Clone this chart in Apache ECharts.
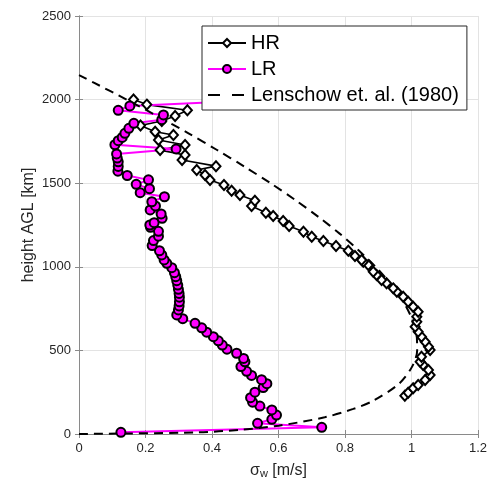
<!DOCTYPE html>
<html lang="en" style="height: 100%">
<head>
    <meta charset="UTF-8">
    <title>sigma_w profile</title>
    <script src="https://cdn.jsdelivr.net/npm/echarts@6/dist/echarts.min.js"></script>
</head>
<body style="height: 100%; margin: 0; background: #fff">
<div id="container" style="width: 493px; height: 485px"></div>

<script type="text/javascript">
    // HR profile: sigma_w [m/s] and height [m], bottom to top
    var hrSigma = [0.980, 0.990, 1.005, 1.020, 1.041, 1.056, 1.051, 1.035, 1.026, 1.030, 1.056, 1.051, 1.041, 1.030,
        1.020, 1.011, 1.016, 1.016, 1.020, 1.005, 0.990, 0.975, 0.956, 0.945, 0.925, 0.910, 0.895, 0.885, 0.870,
        0.855, 0.850, 0.830, 0.810, 0.773, 0.735, 0.700, 0.675, 0.632, 0.614, 0.584, 0.562, 0.519, 0.529, 0.484,
        0.459, 0.436, 0.394, 0.379, 0.354, 0.412, 0.310, 0.319, 0.244, 0.319, 0.239, 0.284, 0.229, 0.185, 0.249,
        0.289, 0.326, 0.204, 0.164];
    var hrHeight = [229, 247, 273, 293, 323, 353, 383, 413, 432, 462, 502, 522, 552, 582,
        612, 642, 672, 702, 731, 761, 791, 821, 851, 871, 901, 921, 951, 971, 1011,
        1030, 1041, 1065, 1096, 1124, 1154, 1180, 1210, 1244, 1274, 1304, 1323, 1364, 1395, 1429,
        1455, 1489, 1519, 1549, 1579, 1602, 1639, 1669, 1698, 1728, 1758, 1788, 1808, 1845, 1872,
        1902, 1936, 1970, 2000];

    // LR profile
    var lrSigma = [0.126, 0.730, 0.537, 0.580, 0.594, 0.580, 0.544, 0.522, 0.516, 0.529, 0.554, 0.565, 0.549,
        0.519, 0.504, 0.487, 0.499, 0.495, 0.474, 0.445, 0.431, 0.419, 0.404, 0.384, 0.369, 0.349, 0.312,
        0.294, 0.299, 0.301, 0.302, 0.302, 0.301, 0.299, 0.297, 0.294, 0.291, 0.287, 0.279, 0.264, 0.256,
        0.249, 0.242, 0.220, 0.224, 0.239, 0.239, 0.215, 0.213, 0.226, 0.250, 0.247, 0.214, 0.230, 0.219,
        0.257, 0.184, 0.212, 0.172, 0.209, 0.145, 0.117, 0.118, 0.118, 0.115, 0.113, 0.292, 0.108, 0.118,
        0.130, 0.138, 0.150, 0.165, 0.249, 0.254, 0.118, 0.153, 0.420];
    var lrHeight = [10, 40, 64, 88, 113, 144, 167, 190, 217, 250, 278, 301, 325,
        350, 375, 403, 432, 452, 483, 507, 532, 557, 582, 609, 635, 662, 690,
        712, 742, 766, 791, 818, 841, 865, 891, 917, 941, 965, 995, 1021, 1041,
        1071, 1096, 1127, 1157, 1183, 1212, 1236, 1250, 1264, 1290, 1316, 1340, 1364, 1389,
        1419, 1443, 1467, 1493, 1520, 1546, 1572, 1600, 1628, 1650, 1675, 1705, 1730, 1754,
        1774, 1798, 1828, 1858, 1880, 1908, 1936, 1962, 1985];

    // Lenschow et al. (1980) reference curve
    var lenSigma = [0, 0.358, 0.483, 0.601, 0.739, 0.825, 0.886, 0.962, 1.001, 1.017, 1.015, 0.999, 0.973,
        0.936, 0.892, 0.840, 0.783, 0.719, 0.650, 0.576, 0.497, 0.414, 0.328, 0.237, 0.143, 0.046, 0];
    var lenHeight = [0, 10, 25, 50, 100, 150, 200, 300, 400, 500, 600, 700, 800,
        900, 1000, 1100, 1200, 1300, 1400, 1500, 1600, 1700, 1800, 1900, 2000, 2100, 2146];

    var seriesNames = ['HR', 'LR', 'Lenschow et. al. (1980)'];

    function pairs(xs, ys) {
        var out = [];
        for (var i = 0; i < xs.length; i++) out.push([xs[i], ys[i]]);
        return out;
    }

    var axisColor = '#8a8a8a';
    var textColor = '#262626';
    var font = 'Liberation Sans, Arial, Helvetica, sans-serif';

    var dom = document.getElementById("container");
    var myChart = echarts.init(dom, null, {renderer: 'canvas'});

    var option = {
        animation: false,
        backgroundColor: '#fff',
        textStyle: {fontFamily: font},
        grid: {left: 79, right: 15, top: 16, bottom: 51, containLabel: false},
        legend: {
            orient: 'vertical',
            left: 202,
            top: 26,
            padding: [7, 8, 5, 5],
            itemWidth: 38,
            itemHeight: 10,
            itemGap: 6,
            backgroundColor: '#fff',
            borderColor: textColor,
            borderWidth: 1,
            borderRadius: 0,
            textStyle: {fontSize: 20, color: '#000', fontFamily: font},
            data: [
                seriesNames[0],
                seriesNames[1],
                {name: seriesNames[2], itemStyle: {opacity: 0}, lineStyle: {type: [12, 12]}}
            ]
        },
        xAxis: [{
            type: 'value',
            min: 0, max: 1.2, interval: 0.2,
            position: 'bottom',
            name: '{s|σ}{sub|w} [m/s]',
            nameLocation: 'middle',
            nameGap: 28,
            nameTextStyle: {
                color: textColor, fontSize: 16,
                rich: {
                    s: {fontSize: 16, color: textColor, fontFamily: font},
                    sub: {fontSize: 11, color: textColor, verticalAlign: 'bottom', padding: [6, 0, 0, 0], fontFamily: font}
                }
            },
            axisLine: {show: true, lineStyle: {color: axisColor}},
            axisTick: {show: true, inside: true, length: 4, lineStyle: {color: axisColor}},
            axisLabel: {
                color: textColor, fontSize: 13, margin: 8,
                formatter: function (v) { return String(Math.round(v * 10) / 10); }
            },
            splitLine: {show: true, lineStyle: {color: '#e3e3e3'}}
        }, {
            type: 'value',
            min: 0, max: 1.2, interval: 0.2,
            position: 'top',
            axisLine: {show: true, lineStyle: {color: axisColor}},
            axisTick: {show: true, inside: true, length: 4, lineStyle: {color: axisColor}},
            axisLabel: {show: false},
            splitLine: {show: false}
        }],
        yAxis: [{
            type: 'value',
            min: 0, max: 2500, interval: 500,
            position: 'left',
            name: 'height AGL [km]',
            nameLocation: 'middle',
            nameGap: 42,
            nameMoveOverlap: false,
            nameTextStyle: {color: textColor, fontSize: 16},
            axisLine: {show: true, lineStyle: {color: axisColor}},
            axisTick: {show: true, inside: true, length: 4, lineStyle: {color: axisColor}},
            axisLabel: {
                color: textColor, fontSize: 13, margin: 8,
                formatter: function (v) { return String(v); }
            },
            splitLine: {show: true, lineStyle: {color: '#e3e3e3'}}
        }, {
            type: 'value',
            min: 0, max: 2500, interval: 500,
            position: 'right',
            axisLine: {show: true, lineStyle: {color: axisColor}},
            axisTick: {show: true, inside: true, length: 4, lineStyle: {color: axisColor}},
            axisLabel: {show: false},
            splitLine: {show: false}
        }],
        series: [{
            name: seriesNames[0],
            type: 'line',
            data: pairs(hrSigma, hrHeight),
            symbol: 'diamond',
            symbolSize: [9, 10],
            showAllSymbol: true,
            lineStyle: {color: '#000', width: 1.6},
            itemStyle: {color: '#fff', borderColor: '#000', borderWidth: 2}
        }, {
            name: seriesNames[1],
            type: 'line',
            data: pairs(lrSigma, lrHeight),
            symbol: 'circle',
            symbolSize: 9,
            showAllSymbol: true,
            lineStyle: {color: '#ff00ff', width: 2},
            itemStyle: {color: '#ff00ff', borderColor: '#000', borderWidth: 2}
        }, {
            name: seriesNames[2],
            type: 'line',
            data: pairs(lenSigma, lenHeight),
            symbol: 'none',
            smooth: 0.3,
            lineStyle: {color: '#000', width: 2, type: [9, 6]},
            itemStyle: {color: '#000'}
        }]
    };
    myChart.setOption(option, true);
</script>
</body>
</html>
